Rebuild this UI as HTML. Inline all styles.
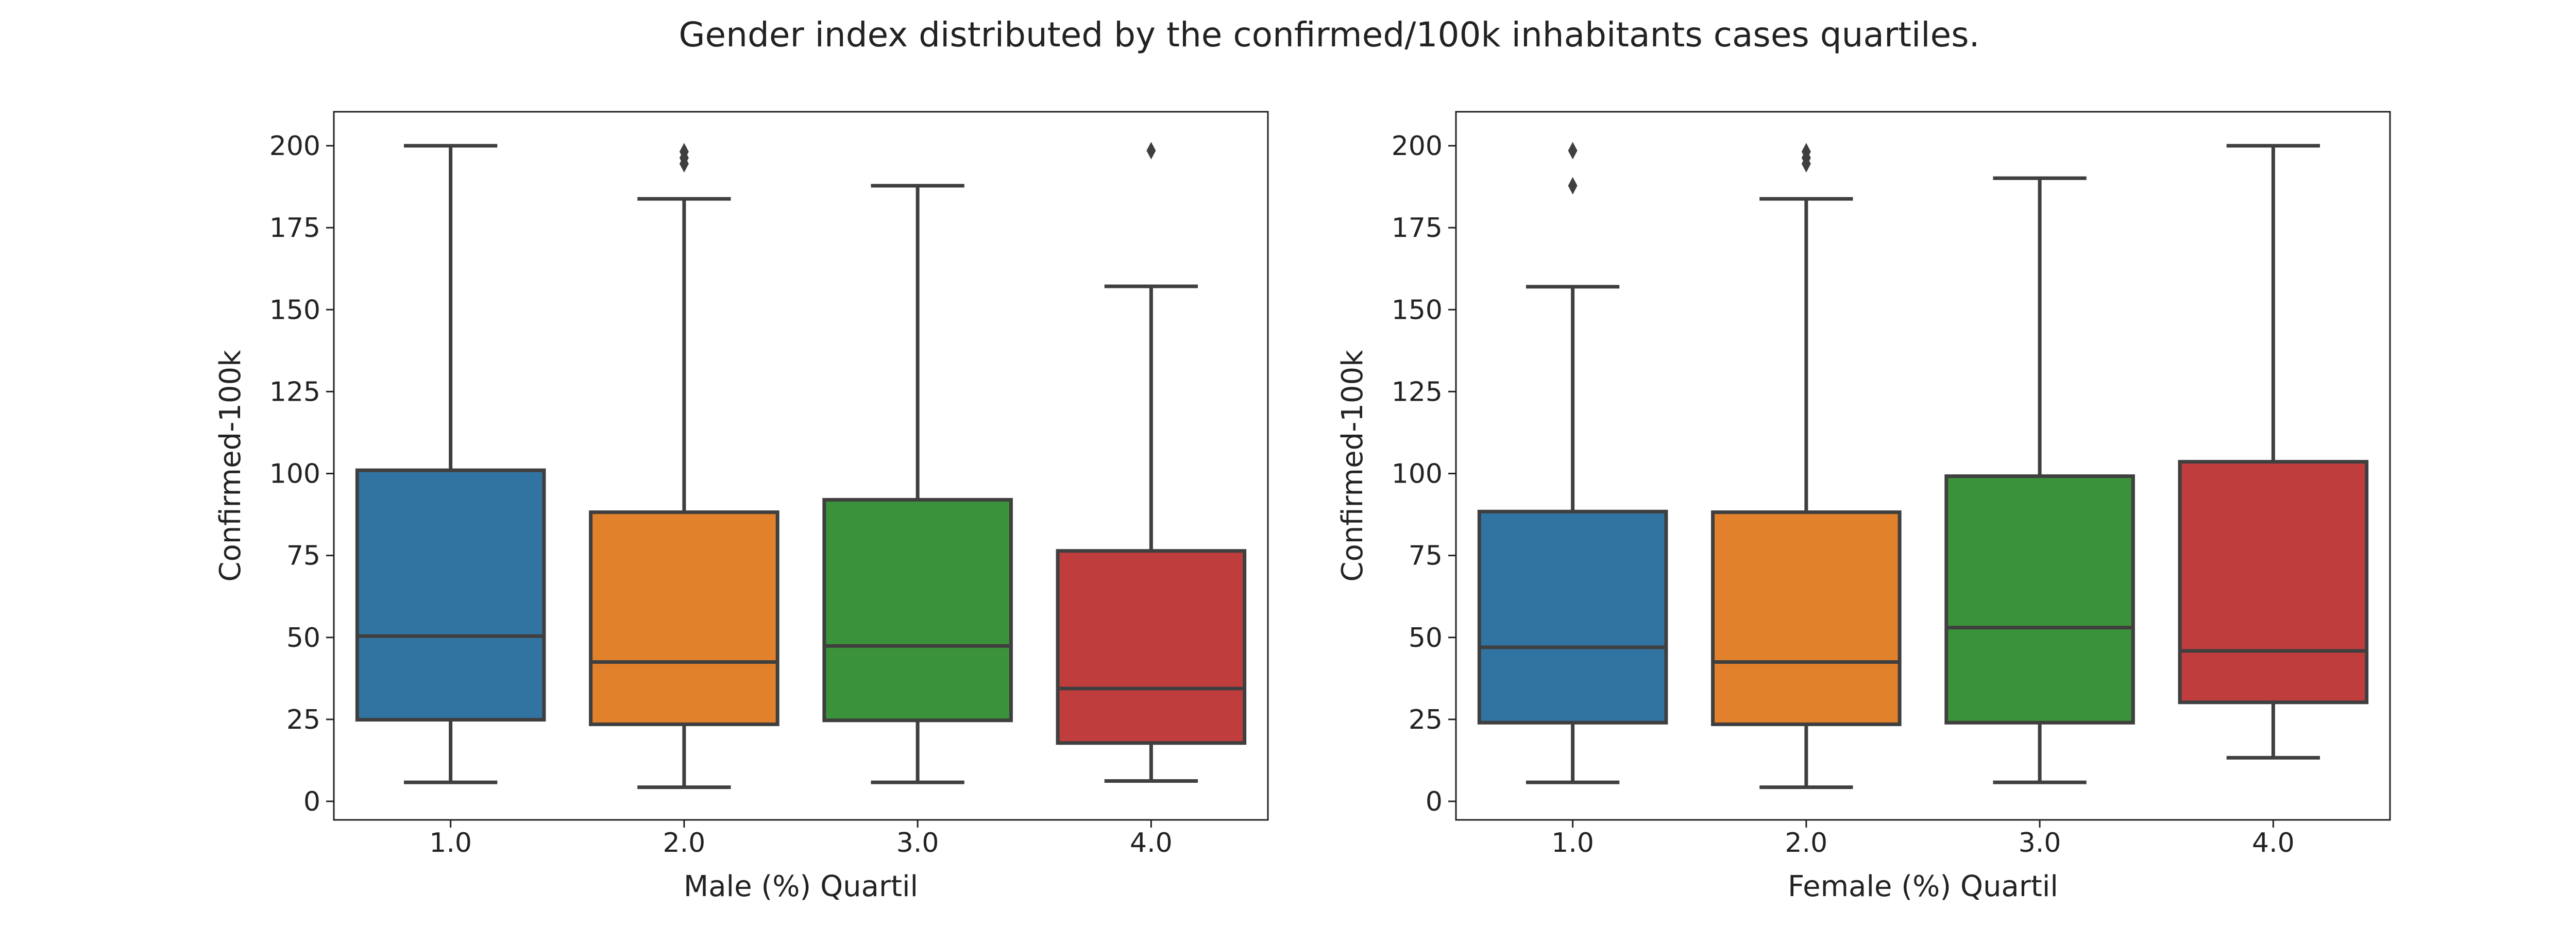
<!DOCTYPE html>
<html><head><meta charset="utf-8"><style>
html,body{margin:0;padding:0;background:#fff}
svg{display:block}
text{font-family:"DejaVu Sans","Liberation Sans",sans-serif;fill:#222}
</style></head><body>
<svg id="chart" width="5100" height="1800" viewBox="0 0 5100 1800" xmlns="http://www.w3.org/2000/svg">
<text x="2580" y="90" text-anchor="middle" font-size="66">Gender index distributed by the confirmed/100k inhabitants cases quartiles.</text>
</svg>
<script>
const categories = ["1.0","2.0","3.0","4.0"];
const yTicks = [0,25,50,75,100,125,150,175,200];
const colors = ["#3274a1","#e1812c","#3a923a","#c03d3e"];
// [low whisker, q1, median, q3, high whisker]
const maleLow = [5.8,4.3,5.8,6.2];
const maleQ1 = [24.9,23.5,24.7,17.8];
const maleMed = [50.4,42.5,47.4,34.4];
const maleQ3 = [101,88.2,92,76.4];
const maleHigh = [200,183.8,187.8,157.1];
const maleOutliers = [[],[194.5,196.3,198.2],[],[198.5]];
const femaleLow = [5.8,4.3,5.8,13.3];
const femaleQ1 = [24,23.5,24,30.2];
const femaleMed = [47,42.5,53,45.9];
const femaleQ3 = [88.4,88.2,99.2,103.6];
const femaleHigh = [157,183.8,190.1,200];
const femaleOutliers = [[187.8,198.5],[194.5,196.3,198.2],[],[]];

const NS="http://www.w3.org/2000/svg";
const svg=document.getElementById('chart');
function mk(tag,attrs,parent){const e=document.createElementNS(NS,tag);for(const k in attrs)e.setAttribute(k,attrs[k]);(parent||svg).appendChild(e);return e;}

function panel(x0,x1,prefix,xlabel,low,q1,med,q3,high,outs){
  const yTop=217,yBot=1592;
  const yS=v=>1556-(1556-283)*v/200;
  const band=(x1-x0)/categories.length;
  const xS=i=>x0+band*(i+0.5);
  const g=mk('g',{});
  
  
  yTicks.forEach(t=>{
    const y=yS(t);
    const l=mk('line',{x1:x0-15,x2:x0,y1:y,y2:y,stroke:'#222','stroke-width':3},g);
    
    
    const tx=mk('text',{x:x0-26,y:y+18,'text-anchor':'end','font-size':52},g);
    tx.textContent=t;
    
    
  });
  categories.forEach((c,i)=>{
    const cx=xS(i),w=band*0.8,lc='#3f3f3f',sw=7;
    const l=mk('line',{x1:cx,x2:cx,y1:yBot,y2:yBot+15,stroke:'#222','stroke-width':3},g);
    
    
    const tx=mk('text',{x:cx,y:yBot+62,'text-anchor':'middle','font-size':52},g);
    tx.textContent=c;
    
    
    const w1=mk('line',{x1:cx,x2:cx,y1:yS(high[i]),y2:yS(q3[i]),stroke:lc,'stroke-width':sw},g);
    
    
    const w2=mk('line',{x1:cx,x2:cx,y1:yS(q1[i]),y2:yS(low[i]),stroke:lc,'stroke-width':sw},g);
    
    
    const c1=mk('line',{x1:cx-w/4,x2:cx+w/4,y1:yS(high[i]),y2:yS(high[i]),stroke:lc,'stroke-width':sw},g);
    
    
    const c2=mk('line',{x1:cx-w/4,x2:cx+w/4,y1:yS(low[i]),y2:yS(low[i]),stroke:lc,'stroke-width':sw},g);
    
    
    const b=mk('rect',{x:cx-w/2,y:yS(q3[i]),width:w,height:yS(q1[i])-yS(q3[i]),fill:colors[i],stroke:lc,'stroke-width':sw},g);
    
    
    const m=mk('line',{x1:cx-w/2,x2:cx+w/2,y1:yS(med[i]),y2:yS(med[i]),stroke:lc,'stroke-width':sw},g);
    
    
    outs[i].forEach(v=>{
      const y=yS(v);
      const p=mk('polygon',{points:`${cx},${y-17} ${cx+9},${y} ${cx},${y+17} ${cx-9},${y}`,fill:lc},g);
      
      
    });
  });
  const fr=mk('rect',{x:x0,y:yTop,width:x1-x0,height:yBot-yTop,fill:'none',stroke:'#222','stroke-width':3},g);
  
  
  const xl=mk('text',{x:(x0+x1)/2,y:1740,'text-anchor':'middle','font-size':56},g);
  xl.textContent=xlabel;
  
  
  const yl=mk('text',{x:0,y:0,'text-anchor':'middle','font-size':56,transform:`translate(${x0-182},${(yTop+yBot)/2}) rotate(-90)`},g);
  yl.textContent='Confirmed-100k';
  
  
}
panel(648,2461,'male','Male (%) Quartil',maleLow,maleQ1,maleMed,maleQ3,maleHigh,maleOutliers);
panel(2826,4639,'female','Female (%) Quartil',femaleLow,femaleQ1,femaleMed,femaleQ3,femaleHigh,femaleOutliers);
</script>
</body></html>
